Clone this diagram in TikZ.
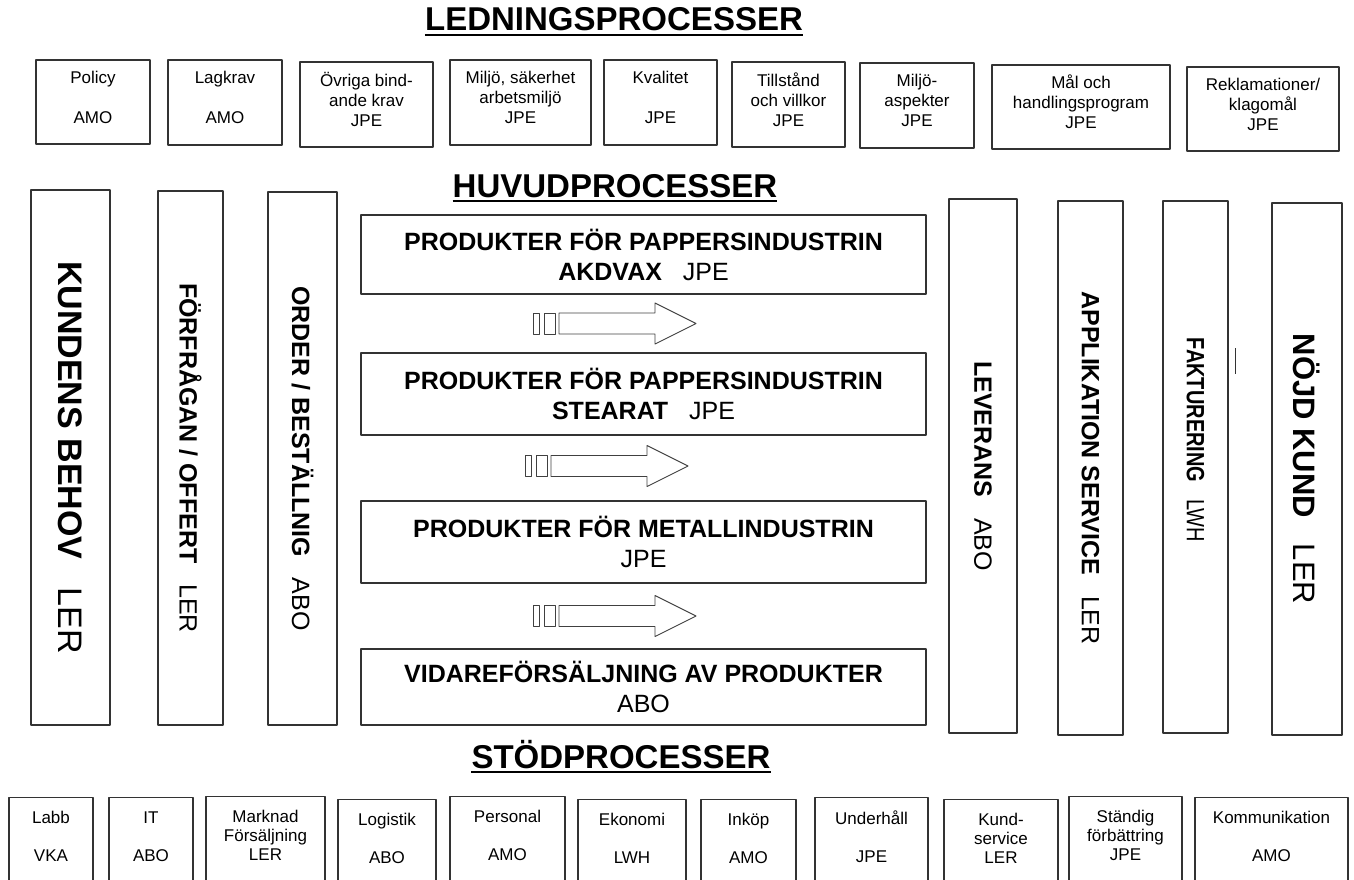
\documentclass[tikz,border=0pt]{standalone}
\usepackage{fontspec}
\setmainfont{Liberation Sans}
\usepackage{graphicx}
\newcommand{\ledpad}{\\[-16pt]\strut}
\newcommand{\stodpad}{\\[-3pt]\strut}
\begin{document}
\begin{tikzpicture}[x=1pt,y=-1pt,line join=round,
	rubrik/.style={inner sep=0pt,anchor=base,font=\fontsize{33}{36}\selectfont\bfseries},
	ledbox/.style={draw=black!80,line width=1.3pt,align=center,inner sep=0pt,font=\fontsize{17}{20}\selectfont},
	stodbox/.style={draw=black!80,line width=1.3pt,align=center,inner sep=0pt,anchor=north,minimum height=100,font=\fontsize{17}{19}\selectfont},
	prodbox/.style={draw=black!80,line width=1.3pt,align=center,inner sep=0pt,minimum width=565,font=\fontsize{25}{30}\selectfont},
	vbar/.style={draw=black!80,line width=1.3pt,inner sep=0pt,rotate=-90,font=\fontsize{25}{30}\selectfont}]
	\useasboundingbox (0,0) rectangle (1354,880);
	% rubriker
	\node[rubrik] (led) at (614,31) {LEDNINGSPROCESSER};
	\node[rubrik] (huvud) at (615,197) {HUVUDPROCESSER};
	\node[rubrik] (stod) at (621,768) {STÖDPROCESSER};
	\foreach \r in {led,huvud,stod}
	\draw[line width=2.5pt] ([yshift=-4pt]\r.base west)--([yshift=-4pt]\r.base east);
	% ledningsprocesser
	\node[ledbox,minimum width=114,minimum height=84] (policy) at (93,102) {Policy\\~\\AMO\ledpad};
	\node[ledbox,minimum width=114,minimum height=85] (lagkrav) at (225,102.5) {Lagkrav\\~\\AMO\ledpad};
	\node[ledbox,minimum width=133,minimum height=85] (ovriga) at (366.5,104.5) {Övriga bind-\\ande krav\\JPE\ledpad};
	\node[ledbox,minimum width=141,minimum height=85] (miljo) at (520.5,102.5) {Miljö, säkerhet\\arbetsmiljö\\JPE\ledpad};
	\node[ledbox,minimum width=113,minimum height=85] (kvalitet) at (660.5,102.5) {Kvalitet\\~\\JPE\ledpad};
	\node[ledbox,minimum width=113,minimum height=85] (tillstand) at (788.5,104.5) {Tillstånd\\och villkor\\JPE\ledpad};
	\node[ledbox,minimum width=114,minimum height=85] (aspekter) at (917,105.5) {Miljö-\\aspekter\\JPE\ledpad};
	\node[ledbox,minimum width=178,minimum height=84] (mal) at (1081,107) {Mål och\\handlingsprogram\\JPE\ledpad};
	\node[ledbox,minimum width=152,minimum height=84] (reklam) at (1263,109) {Reklamationer/\\klagomål\\JPE\ledpad};
	% huvudprocesser
	\node[vbar,minimum width=535,minimum height=79,font=\fontsize{34}{40}\selectfont] (behov) at (70.5,457.5) {\textbf{KUNDENS BEHOV}~~~LER};
	\node[vbar,minimum width=534,minimum height=65] (forfragan) at (190.5,458) {\textbf{FÖRFRÅGAN / OFFERT}~~~LER};
	\node[vbar,minimum width=533,minimum height=69] (order) at (302.5,458.5) {\textbf{ORDER / BESTÄLLNIG}~~~ABO};
	\node[prodbox,minimum height=79] (akdvax) at (643.5,254.5) {\textbf{PRODUKTER FÖR PAPPERSINDUSTRIN}\\\textbf{AKDVAX}~~~JPE};
	\node[prodbox,minimum height=82] (stearat) at (643.5,394) {\textbf{PRODUKTER FÖR PAPPERSINDUSTRIN}\\\textbf{STEARAT}~~~JPE};
	\node[prodbox,minimum height=82] (metall) at (643.5,542) {\textbf{PRODUKTER FÖR METALLINDUSTRIN}\\JPE};
	\node[prodbox,minimum height=76] (vidare) at (643.5,687) {\textbf{VIDAREFÖRSÄLJNING AV PRODUKTER}\\ABO};
	\foreach \ax/\ay in {533/323.5,525/466,533/616}{
		\draw[black!75,line width=0.9pt] (\ax,\ay-10.5) rectangle ++(6,21);
		\draw[black!75,line width=0.9pt] (\ax+11,\ay-10.5) rectangle ++(11,21);
		\draw[black!75,line width=0.9pt] (\ax+26,\ay-10.5)--++(96,0)--++(0,-10)--(\ax+163,\ay)
			--(\ax+122,\ay+20.5)--++(0,-10)--(\ax+26,\ay+10.5)--cycle;
	}
	\node[vbar,minimum width=534,minimum height=68] (leverans) at (983,466) {\textbf{LEVERANS}~~~ABO};
	\node[vbar,minimum width=534,minimum height=65] (applikation) at (1090.5,468) {\textbf{APPLIKATION SERVICE}~~~LER};
	\node[vbar,minimum width=532,minimum height=65] (fakturering) at (1195.5,467) {};
	\node[rotate=-90,inner sep=0pt,font=\fontsize{25}{30}\selectfont] (fakttext) at (1195.5,440) {\scalebox{0.8}[1]{\textbf{FAKTURERING}~~~LWH}};
	\draw[black!80,line width=1pt] (1235,348)--(1235,374);
	\node[vbar,minimum width=532,minimum height=70,font=\fontsize{31}{36}\selectfont] (nojd) at (1307,469) {\textbf{NÖJD KUND}~~~LER};
	% stödprocesser
	\node[stodbox,minimum width=84] (labb) at (51,797) {Labb\\~\\VKA\stodpad};
	\node[stodbox,minimum width=84] (it) at (151,797) {IT\\~\\ABO\stodpad};
	\node[stodbox,minimum width=119] (marknad) at (265.5,796) {Marknad\\Försäljning\\LER\stodpad};
	\node[stodbox,minimum width=98] (logistik) at (387,799) {Logistik\\~\\ABO\stodpad};
	\node[stodbox,minimum width=115] (personal) at (507.5,796) {Personal\\~\\AMO\stodpad};
	\node[stodbox,minimum width=108] (ekonomi) at (632,799) {Ekonomi\\~\\LWH\stodpad};
	\node[stodbox,minimum width=95] (inkop) at (748.5,799) {Inköp\\~\\AMO\stodpad};
	\node[stodbox,minimum width=113] (underhall) at (871.5,797) {Underhåll\\~\\JPE\stodpad};
	\node[stodbox,minimum width=114] (kundservice) at (1001,799) {Kund-\\service\\LER\stodpad};
	\node[stodbox,minimum width=113] (standig) at (1125.5,796) {Ständig\\förbättring\\JPE\stodpad};
	\node[stodbox,minimum width=153] (kommunikation) at (1271.5,797) {Kommunikation\\~\\AMO\stodpad};
\end{tikzpicture}
\end{document}
